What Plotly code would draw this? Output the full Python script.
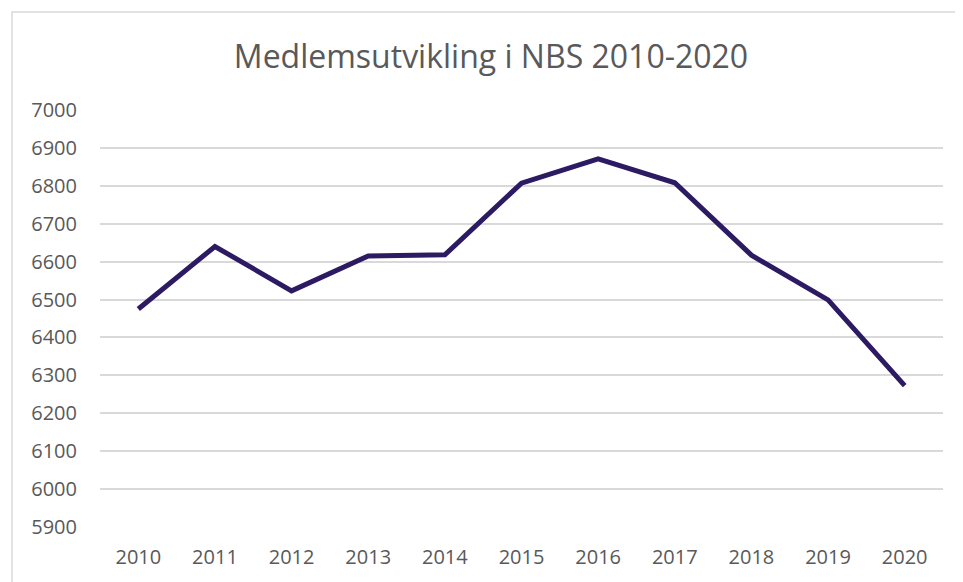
import plotly.graph_objects as go

years = ["2010", "2011", "2012", "2013", "2014", "2015", "2016", "2017", "2018", "2019", "2020"]
members = [6475, 6640, 6523, 6615, 6618, 6807, 6871, 6808, 6617, 6499, 6273]
y_ticks = list(range(5900, 7001, 100))

# page body has an 8px margin, so layout coordinates are offset by 8px
OFF = 8
W, H = 963, 582
L, R, T, B = 100 - OFF, 20 + OFF, 110 - OFF, 55 + OFF
pw, ph = W - L - R, H - T - B

def px(x):
    return (x - OFF - L) / pw

def py(y):
    return (H - B - (y - OFF)) / ph

fig = go.Figure()
fig.add_trace(go.Scatter(
    x=years, y=members, mode="lines",
    line=dict(color="#2C1A63", width=5),
    hoverinfo="x+y", showlegend=False,
))

fig.update_layout(
    width=W, height=H,
    margin=dict(l=L, r=R, t=T, b=B, autoexpand=False),
    paper_bgcolor="white", plot_bgcolor="white",
    font=dict(family="Open Sans", color="#595959", size=20),
    title=dict(text="Medlemsutvikling i NBS 2010-2020", x=(491 - OFF) / W, xanchor="center",
               y=1 - (57 - OFF) / H, yanchor="middle",
               font=dict(family="Open Sans", size=32, color="#595959")),
    xaxis=dict(type="category", range=[-0.5, 10.5], showgrid=False, showline=False,
               zeroline=False, ticks="", automargin=False, ticklabelstandoff=16,
               tickfont=dict(size=20, color="#595959")),
    yaxis=dict(range=[5900, 7000], tickvals=y_ticks, showgrid=True, automargin=False,
               gridcolor="#D9D9D9", gridwidth=1.5, zeroline=False, showline=False,
               ticks="", ticklabelstandoff=22, tickfont=dict(size=20, color="#595959")),
    shapes=[dict(type="rect", xref="paper", yref="paper",
                 x0=px(12), x1=px(957), y0=py(600), y1=py(12),
                 line=dict(color="#D9D9D9", width=1.5), fillcolor="rgba(0,0,0,0)",
                 layer="below")],
)

fig.write_html("out.html")
